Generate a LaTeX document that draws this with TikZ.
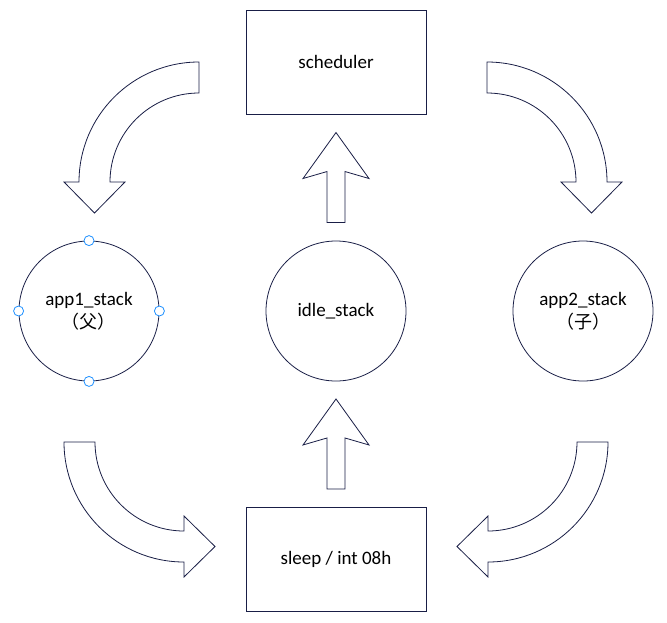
\documentclass[tikz,border=0pt]{standalone}
\usepackage{fontspec}
\setmainfont{Carlito}
\newfontfamily\cjk{Noto Sans CJK SC}
\usetikzlibrary{calc}

\definecolor{edgeblue}{RGB}{25,30,70}
\definecolor{handleblue}{RGB}{30,144,255}

\tikzset{
  box/.style={draw=edgeblue, line width=0.9pt, rectangle, minimum width=180pt, minimum height=104pt, inner sep=0pt},
  stack/.style={draw=edgeblue, line width=0.8pt, circle, minimum size=140pt, inner sep=0pt, align=center},
  handle/.style={draw=handleblue, fill=white, line width=0.8pt, circle, minimum size=10pt, inner sep=0pt},
  blockarrow/.style={draw=edgeblue, line width=0.8pt, fill=white, line join=miter},
  pics/uparrow/.style={code={
    % shaft below, notched head on top
    \draw[blockarrow] (-9,45) -- (-9,-6) -- (-33,1) -- (0,-45) -- (33,1) -- (9,-6) -- (9,45) -- cycle;
  }}
}

\begin{document}
\begin{tikzpicture}[x=1pt, y=-1pt, font=\fontsize{19pt}{24pt}\selectfont]

    % Fix the canvas to the size of the original picture
    \useasboundingbox (0,0) rectangle (667,622);

    % The two boxes, top and bottom
    \node[box] (sched) at (336,62) {scheduler};
    \node[box] (sleep) at (336,559) {sleep / int 08h};

    % The three stacks in the middle row
    \node[stack] (app1) at (89,311) {app1\_stack\\[-1pt]{\cjk\fontsize{18pt}{24pt}\selectfont （父）}};
    \node[stack] (idle) at (336,311) {idle\_stack};
    \node[stack] (app2) at (583,311) {app2\_stack\\[-1pt]{\cjk\fontsize{18pt}{24pt}\selectfont （子）}};

    % Selection handles around app1
    \foreach \side in {north,south,east,west}
        \node[handle] (h-\side) at (app1.\side) {};

    % Straight arrows up the middle column
    \pic at ($(idle.north)!0.5!(sched.south)$) {uparrow};
    \pic at ($(sleep.north)!0.5!(idle.south)$) {uparrow};

    % Centres of the four curved arrows
    \coordinate (c1) at (199,182);
    \coordinate (c2) at (487,182);
    \coordinate (c3) at (184,442);
    \coordinate (c4) at (488,442);

    % scheduler -> app1
    \draw[blockarrow] ($(c1)+(0,-120)$) arc[start angle=90, end angle=180, radius=120pt]
        -- ++(-15,0) -- ++(30.5,31) -- ++(30.5,-31) -- ++(-15,0)
        arc[start angle=180, end angle=90, radius=89pt] -- cycle;

    % scheduler -> app2
    \draw[blockarrow] ($(c2)+(0,-120)$) arc[start angle=90, end angle=0, radius=120pt]
        -- ++(15,0) -- ++(-30.5,31) -- ++(-30.5,-31) -- ++(15,0)
        arc[start angle=0, end angle=90, radius=89pt] -- cycle;

    % app1 -> sleep
    \draw[blockarrow] ($(c3)+(-120,0)$) arc[start angle=180, end angle=270, radius=120pt]
        -- ++(0,15) -- ++(31,-30.5) -- ++(-31,-30.5) -- ++(0,15)
        arc[start angle=270, end angle=180, radius=89pt] -- cycle;

    % app2 -> sleep
    \draw[blockarrow] ($(c4)+(120,0)$) arc[start angle=0, end angle=-90, radius=120pt]
        -- ++(0,15) -- ++(-31,-30.5) -- ++(31,-30.5) -- ++(0,15)
        arc[start angle=-90, end angle=0, radius=89pt] -- cycle;

\end{tikzpicture}
\end{document}
